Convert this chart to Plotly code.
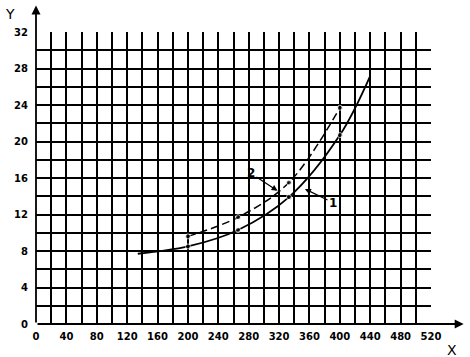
import plotly.graph_objects as go

# Curve 1 (solid)
x1 = [134, 200, 266, 333, 400, 440]
y1 = [7.7, 8.5, 10.3, 13.9, 20.7, 27.2]
m1 = [0, 5, 5, 5, 5, 0]
# Curve 2 (dashed)
x2 = [200, 266, 333, 400]
y2 = [9.6, 11.7, 15.5, 23.7]
m2 = [5, 5, 5, 5]

x_ticks = list(range(0, 521, 40))
y_ticks = list(range(0, 33, 4))

fig = go.Figure()
fig.add_trace(go.Scatter(x=x1, y=y1, mode="lines+markers",
                         line=dict(color="black", width=1.8, shape="spline"),
                         marker=dict(size=m1, color="black")))
fig.add_trace(go.Scatter(x=x2, y=y2, mode="lines+markers",
                         line=dict(color="black", width=1.5, dash="8px,4px", shape="spline"),
                         marker=dict(size=m2, color="black")))

tickfont = dict(family="DejaVu Sans", size=10, color="black")
fig.update_layout(
    width=470, height=357,
    margin=dict(l=36, r=39, t=32, b=33),
    paper_bgcolor="white", plot_bgcolor="white",
    showlegend=False,
    xaxis=dict(range=[0, 520], tickvals=x_ticks, ticktext=[f"<b>{v}</b>" for v in x_ticks],
               showgrid=True, gridcolor="black", gridwidth=1.5,
               minor=dict(dtick=20, tick0=0, showgrid=True, gridcolor="black", gridwidth=1.5),
               ticks="", tickfont=tickfont, zeroline=False, showline=False, ticklabelstandoff=5),
    yaxis=dict(range=[0, 32], tickvals=y_ticks, ticktext=[f"<b>{v}</b>" for v in y_ticks],
               showgrid=True, gridcolor="black", gridwidth=1.5,
               minor=dict(dtick=2, tick0=0, showgrid=True, gridcolor="black", gridwidth=1.5),
               ticks="", tickfont=tickfont, zeroline=False, showline=False, ticklabelstandoff=7),
)

# axes with arrows
fig.add_annotation(x=563, y=0, ax=0, ay=0, xref="x", yref="y", axref="x", ayref="y",
                   showarrow=True, arrowhead=2, arrowsize=1, arrowwidth=1.8, arrowcolor="black", text="")
fig.add_annotation(x=0, y=34.9, ax=0, ay=0, xref="x", yref="y", axref="x", ayref="y",
                   showarrow=True, arrowhead=2, arrowsize=1, arrowwidth=1.8, arrowcolor="black", text="")

# axis titles
fig.add_annotation(x=-0.066, y=1.063, xref="paper", yref="paper", text="Y",
                   xanchor="center", yanchor="middle",
                   showarrow=False, font=dict(family="DejaVu Sans", size=14, color="black"))
fig.add_annotation(x=1.053, y=-0.089, xref="paper", yref="paper", text="X",
                   xanchor="center", yanchor="middle",
                   showarrow=False, font=dict(family="DejaVu Sans", size=14, color="black"))

# curve labels with leader arrows
fig.add_annotation(x=318, y=14.6, ax=283, ay=16.5, xref="x", yref="y", axref="x", ayref="y",
                   text="<b>2</b>", showarrow=True, arrowhead=2, arrowsize=1, arrowwidth=1.2,
                   arrowcolor="black", font=dict(family="DejaVu Sans", size=12, color="black"),
                   standoff=0, startstandoff=0)
fig.add_annotation(x=354, y=14.8, ax=391, ay=13.3, xref="x", yref="y", axref="x", ayref="y",
                   text="<b>1</b>", showarrow=True, arrowhead=2, arrowsize=1, arrowwidth=1.2,
                   arrowcolor="black", font=dict(family="DejaVu Sans", size=12, color="black"),
                   standoff=0, startstandoff=0)

fig.write_html("out.html")
